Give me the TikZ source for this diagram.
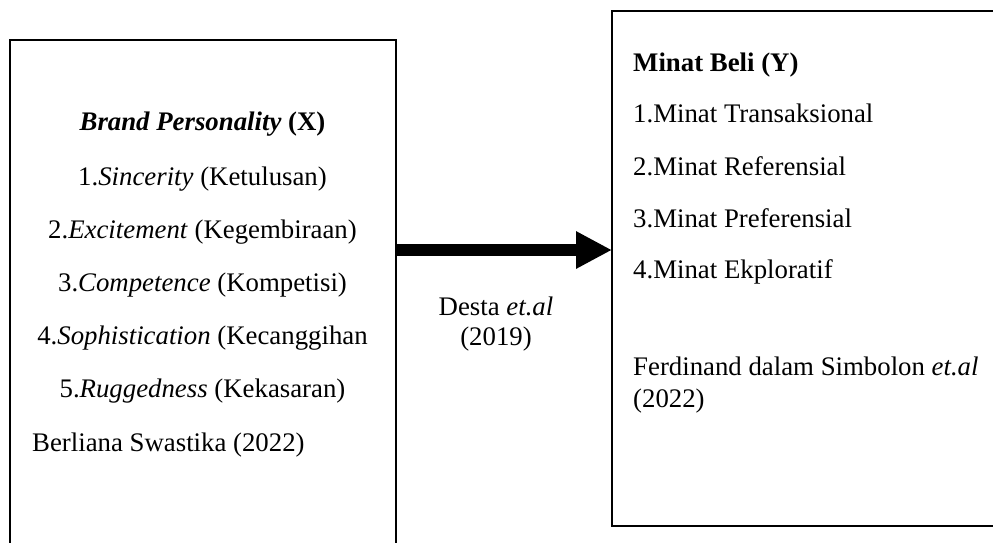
\documentclass[tikz,border=0pt]{standalone}
\usepackage{fontspec}
\setmainfont{Liberation Serif}
\usetikzlibrary{arrows.meta}

\tikzset{
  varbox/.style={draw, line width=2.2pt, inner sep=0pt, outer sep=0pt, anchor=north west},
  txt/.style={font=\fontsize{26.8}{32}\selectfont, inner sep=0pt},
  bigarrow/.style={-{Triangle[length=36pt,width=35pt]}, line width=12pt}
}

\begin{document}
\begin{tikzpicture}[x=1pt, y=-1pt]
  \useasboundingbox (0,0) rectangle (993,542);

  % Boxes for both variables (they run past the page edge)
  \node[varbox, minimum width=386pt, minimum height=600pt] (xbox) at (10,40) {};
  \node[varbox, minimum width=500pt, minimum height=515pt] (ybox) at (612,11) {};

  % Variable X
  \node[txt, anchor=base] (xtitle) at (202.5,130) {\textbf{\textit{Brand Personality} (X)}};
  \node[txt, anchor=base] (x1) at (202.5,185) {1.\textit{Sincerity} (Ketulusan)};
  \node[txt, anchor=base] (x2) at (202.5,238) {2.\textit{Excitement} (Kegembiraan)};
  \node[txt, anchor=base] (x3) at (202.5,291) {3.\textit{Competence} (Kompetisi)};
  \node[txt, anchor=base] (x4) at (202.5,344) {4.\textit{Sophistication} (Kecanggihan};
  \node[txt, anchor=base] (x5) at (202.5,397) {5.\textit{Ruggedness} (Kekasaran)};
  \node[txt, anchor=base west] (xsrc) at (32,451) {Berliana Swastika (2022)};

  % Variable Y
  \node[txt, anchor=base west] (ytitle) at (633,71) {\textbf{Minat Beli (Y)}};
  \node[txt, anchor=base west] (y1) at (633,122) {1.Minat Transaksional};
  \node[txt, anchor=base west] (y2) at (633,175) {2.Minat Referensial};
  \node[txt, anchor=base west] (y3) at (633,227) {3.Minat Preferensial};
  \node[txt, anchor=base west] (y4) at (633,278) {4.Minat Ekploratif};
  \node[txt, anchor=base west] (ysrc) at (633,375) {Ferdinand dalam Simbolon \textit{et.al}};
  \node[txt, anchor=base west] (ysrcyr) at (633,407) {(2022)};

  % Arrow X -> Y
  \coordinate (axis) at (0,250);
  \draw[bigarrow] (xbox.east |- axis) -- (ybox.west |- axis);
  \node[txt, anchor=base] (desta) at (496,315) {Desta \textit{et.al}};
  \node[txt, anchor=base] (destayr) at (496,345) {(2019)};
\end{tikzpicture}
\end{document}
